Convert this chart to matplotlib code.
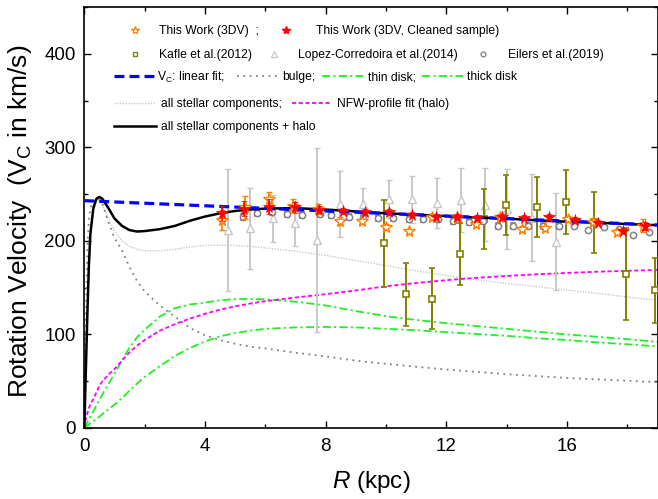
import matplotlib
matplotlib.use("Agg")
import matplotlib.pyplot as plt
from matplotlib.lines import Line2D
from matplotlib.ticker import MultipleLocator

plt.rcParams['font.family'] = ['Liberation Sans', 'DejaVu Sans']
plt.rcParams['mathtext.fontset'] = 'custom'
plt.rcParams['mathtext.rm'] = 'Liberation Sans'
plt.rcParams['mathtext.it'] = 'Liberation Sans:italic'

# ---------------- data ----------------
# This Work (3DV)
tw_R = [4.55, 5.33, 6.12, 6.93, 7.76, 8.48, 9.22, 9.99, 10.77, 11.54, 12.35, 13.0,
        13.78, 14.5, 15.27, 16.04, 16.87, 17.65, 18.53]
tw_V = [222.2, 235.7, 244.6, 237.5, 234.0, 221.5, 220.8, 215.1, 210.1, 225.5, 226.0, 218.0,
        225.8, 212.7, 213.3, 223.3, 219.7, 209.8, 216.2]
tw_E = [11, 12, 8, 7, 5, 4, 3, 3, 3, 3, 3, 3, 3, 3, 3, 3, 3, 3, 7]

# This Work (3DV, Cleaned sample)
cl_R = [4.57, 5.28, 6.11, 6.97, 7.79, 8.58, 9.32, 10.11, 10.86, 11.67, 12.35, 13.02,
        13.85, 14.59, 15.4, 16.25, 17.03, 17.86, 18.6]
cl_V = [229.6, 234.2, 236.7, 235.9, 233.5, 231.7, 230.6, 231.0, 228.1, 226.0, 226.0, 225.0,
        225.3, 225.0, 225.3, 222.4, 219.6, 210.4, 215.7]
cl_E = [8, 8, 8, 6, 4, 3, 3, 3, 3, 3, 3, 3, 3, 3, 3, 3, 3, 3, 4]

# Kafle et al. (2012)
kf_R = [9.92, 10.65, 11.54, 12.45, 13.25, 13.98, 15.0, 15.98, 16.9, 17.94, 18.93]
kf_V = [197.4, 142.7, 138.1, 186.0, 223.0, 238.2, 236.0, 241.7, 219.7, 164.7, 147.0]
kf_E = [46.5, 34, 32.6, 33, 32, 32, 32, 34, 33, 49, 35]

# Lopez-Corredoira et al. (2014)
lc_R = [4.75, 5.49, 6.24, 6.98, 7.72, 8.48, 9.23, 10.09, 10.87, 11.70, 12.50, 13.28,
        14.02, 14.83, 15.62]
lc_V = [211.6, 213.3, 224.0, 218.6, 201.0, 239.3, 239.3, 244.6, 244.6, 240.4, 243.6, 238.5,
        234.0, 225.0, 199.0]
lc_E = [65, 43, 25, 24, 98, 35, 17, 20, 25, 27, 34, 39, 43, 47, 52]

# Eilers et al. (2019)
ei_R = [5.27, 5.74, 6.21, 6.73, 7.23, 7.81, 8.18, 8.77, 9.25, 9.75, 10.24, 10.75, 11.24,
        11.71, 12.23, 12.76, 13.2, 13.72, 14.22, 14.72, 15.22, 15.72, 16.23, 16.71,
        17.23, 17.73, 18.2, 18.73]
ei_V = [225.8, 229.7, 231.1, 228.6, 227.9, 228.6, 227.9, 225.8, 224.4, 224.4, 224.4, 223.3,
        223.3, 222.9, 221.5, 220.4, 220.8, 216.2, 216.2, 216.2, 216.2, 216.2, 215.5, 211.6,
        215.1, 212.7, 206.6, 209.1]
ei_E = [3] * 22 + [0] * 6

# linear fit of V_C
lin_R = [0, 19]
lin_V = [243, 217]

# model curves
mod_R = [0, 0.05, 0.1, 0.15, 0.2, 0.3, 0.4, 0.5, 0.6, 0.8, 1.0, 1.25, 1.5, 1.75, 2.0,
         2.5, 3.0, 3.5, 4.0, 4.5, 5.0, 5.5, 6.0, 7, 8, 9, 10, 11, 12, 13, 14, 15, 16,
         17, 18, 19]
bulge_V = [0, 110, 190, 222, 235, 243, 245, 244, 240, 220, 203, 190, 172, 157, 146,
           131, 119, 107, 99, 94, 90, 87, 85, 80.5, 76.5, 72, 68.5, 65.5, 62.5, 60, 57.5,
           55.5, 53.5, 52, 50.5, 49]
thin_V = [0, 3, 6, 9, 12, 18, 24, 30, 36, 47, 58, 72, 86, 97, 105,
          119, 128, 132, 134, 136.5, 137.8, 138, 137.5, 135, 131, 125, 119.5, 115.5, 112,
          109, 106, 103, 100, 97.5, 95, 92]
thick_V = [0, 1.2, 2.5, 3.7, 5, 7.3, 9.7, 12, 15, 20, 25, 32, 40, 47.5, 54.5,
           66, 77, 85.5, 92.5, 98, 101.5, 104, 106, 107.5, 108, 107.5, 106, 104.5, 102.5,
           100.5, 98.5, 96, 94, 91.5, 89.5, 87.3]
stellar_V = [0, 60, 118, 170, 205, 232, 241, 242, 238, 224, 211, 200, 194, 191, 189.5,
             189.5, 191, 193.5, 195, 195.5, 195, 194, 192.5, 189, 184.5, 179, 173.5, 168,
             163, 158.5, 154.5, 151, 147.5, 144, 140, 136.5]
halo_V = [0, 10, 16, 21, 25, 31, 38, 45, 50, 57, 63, 72, 81, 88, 94,
          104, 111, 117, 122, 126.5, 130, 133, 135.5, 139.5, 143, 147, 151.5, 155, 158,
          160.5, 162.5, 164.3, 165.8, 167, 168, 169]
total_V = [0, 60, 120, 172, 207, 235, 245, 247, 245, 235, 224, 216, 211.5, 210, 210.5,
           212.5, 216, 221.5, 226, 229.5, 232, 233.5, 234.5, 235, 233.5, 231.5, 229.5, 228,
           226.5, 225, 223.8, 222, 220.5, 219.5, 218, 216.8]

# ---------------- styles ----------------
C_ORANGE = '#ff8000'
C_RED = '#ff0000'
C_OLIVE = '#808000'
C_LGRAY = '#c8c8c8'
C_GRAY = '#808080'
C_GREEN = '#22ee22'
C_MAG = '#ff00ff'
C_BLUE = '#0000ff'

ls_bulge = (0, (1, 2.5))
ls_stellar = (0, (1, 1))
ls_disk = (0, (4.5, 1.8, 1.2, 1.8))
ls_halo = (0, (2.3, 1.4))
ls_lin = (0, (3.1, 1.6))

W, H = 658, 499
fig = plt.figure(figsize=(W / 100, H / 100), dpi=100)
ax = fig.add_axes([84.3 / W, 1 - 428 / H, (657.5 - 84.3) / W, (428 - 7) / H])

# curves
ax.plot(mod_R, stellar_V, color=C_LGRAY, lw=1.0, ls=ls_stellar, zorder=2)
ax.plot(mod_R, bulge_V, color=C_GRAY, lw=1.3, ls=ls_bulge, zorder=2)
ax.plot(mod_R, thin_V, color=C_GREEN, lw=1.3, ls=ls_disk, zorder=2)
ax.plot(mod_R, thick_V, color=C_GREEN, lw=1.3, ls=ls_disk, zorder=2)
ax.plot(mod_R, halo_V, color=C_MAG, lw=1.3, ls=ls_halo, zorder=2)

# data
ax.errorbar(lc_R, lc_V, yerr=lc_E, fmt='^', ms=6, mfc='white', mec=C_LGRAY, mew=1.0,
            ecolor=C_LGRAY, elinewidth=1.4, capsize=2.5, capthick=1.0, zorder=3)
ax.errorbar(kf_R, kf_V, yerr=kf_E, fmt='s', ms=5, mfc='white', mec=C_OLIVE, mew=1.2,
            ecolor=C_OLIVE, elinewidth=1.4, capsize=2.5, capthick=1.0, zorder=4)
ax.errorbar(ei_R, ei_V, yerr=ei_E, fmt='o', ms=4.5, mfc='white', mec=C_GRAY, mew=1.1,
            ecolor=C_GRAY, elinewidth=3.0, capsize=2.2, capthick=1.5, zorder=5)

ax.plot(mod_R, total_V, color='black', lw=1.8, zorder=5.5)
ax.plot(lin_R, lin_V, color=C_BLUE, lw=2.3, ls=ls_lin, zorder=5.6)

ax.errorbar(tw_R, tw_V, yerr=tw_E, fmt='*', ms=8.5, mfc='white', mec=C_ORANGE, mew=1.0,
            ecolor=C_ORANGE, elinewidth=1.2, capsize=2, capthick=1.0, zorder=6)
ax.errorbar(cl_R, cl_V, yerr=cl_E, fmt='*', ms=8.5, mfc=C_RED, mec=C_RED, mew=0.5,
            ecolor=C_RED, elinewidth=1.2, capsize=2, capthick=1.0, zorder=7)

# axes
ax.set_xlim(0, 19)
ax.set_ylim(0, 450)
ax.xaxis.set_major_locator(MultipleLocator(4))
ax.xaxis.set_minor_locator(MultipleLocator(2))
ax.yaxis.set_major_locator(MultipleLocator(100))
ax.yaxis.set_minor_locator(MultipleLocator(50))
ax.tick_params(which='both', direction='in', top=True, right=True, labelsize=13.5, width=1.0)
ax.tick_params(which='major', length=5)
ax.tick_params(which='minor', length=3.2)
ax.tick_params(axis='x', pad=7)
ax.tick_params(axis='y', pad=6)
for s in ax.spines.values():
    s.set_linewidth(1.2)

ax.set_xlabel(r'$\it{R}$ (kpc)', fontsize=17.5)
ax.set_ylabel(r'Rotation Velocity  (V$_\mathrm{C}$ in km/s)', fontsize=19)
ax.xaxis.set_label_coords(0.5, -0.098)
ax.yaxis.set_label_coords(-0.088, 0.49)

# legend (entries placed individually)
FS = 8.7
def entry(handle, label, x_px, y_px, hl, pad):
    fig.legend(handles=[handle], labels=[label], loc='center left',
               bbox_to_anchor=(x_px / W, 1 - y_px / H), frameon=False, fontsize=FS,
               handlelength=hl, handletextpad=pad, borderpad=0, borderaxespad=0,
               numpoints=1)

h_tw = Line2D([], [], ls='none', marker='*', ms=6, mfc='white', mec=C_ORANGE, mew=0.9)
h_cl = Line2D([], [], ls='none', marker='*', ms=6, mfc=C_RED, mec=C_RED)
h_kf = Line2D([], [], ls='none', marker='s', ms=3.5, mfc='white', mec=C_OLIVE, mew=1.0)
h_lc = Line2D([], [], ls='none', marker='^', ms=4, mfc='white', mec=C_LGRAY, mew=0.9)
h_ei = Line2D([], [], ls='none', marker='o', ms=3.5, mfc='white', mec=C_GRAY, mew=0.9)
h_lin = Line2D([], [], color=C_BLUE, lw=2.3, ls=ls_lin)
h_bul = Line2D([], [], color=C_GRAY, lw=1.3, ls=ls_bulge)
h_thin = Line2D([], [], color=C_GREEN, lw=1.3, ls=ls_disk)
h_thick = Line2D([], [], color=C_GREEN, lw=1.3, ls=ls_disk)
h_st = Line2D([], [], color=C_LGRAY, lw=1.0, ls=ls_stellar)
h_halo = Line2D([], [], color=C_MAG, lw=1.3, ls=ls_halo)
h_tot = Line2D([], [], color='black', lw=1.8)

entry(h_tw, 'This Work (3DV)  ;', 122.5, 31, 2.0, 1.0)
entry(h_cl, 'This Work (3DV, Cleaned sample)', 273.6, 31, 2.0, 1.5)
entry(h_kf, 'Kafle et al.(2012)', 122.5, 55, 2.0, 1.0)
entry(h_lc, 'Lopez-Corredoira et al.(2014)', 261.9, 55, 2.0, 1.0)
entry(h_ei, 'Eilers et al.(2019)', 470.9, 55, 2.0, 1.05)
entry(h_lin, r'V$_\mathrm{C}$: linear fit;', 113.6, 77, 3.54, 0.05)
entry(h_bul, 'bulge;', 237, 77, 3.47, 0.3)
entry(h_thin, 'thin disk;', 321.7, 77, 3.44, 0.4)
entry(h_thick, 'thick disk', 421.7, 77, 3.44, 0.35)
entry(h_st, 'all stellar components;', 113.6, 104, 3.42, 0.47)
entry(h_halo, 'NFW-profile fit (halo)', 292, 104, 3.2, 0.5)
entry(h_tot, 'all stellar components + halo', 113.6, 127, 3.54, 0.4)

fig.savefig('out.png', dpi=100)
